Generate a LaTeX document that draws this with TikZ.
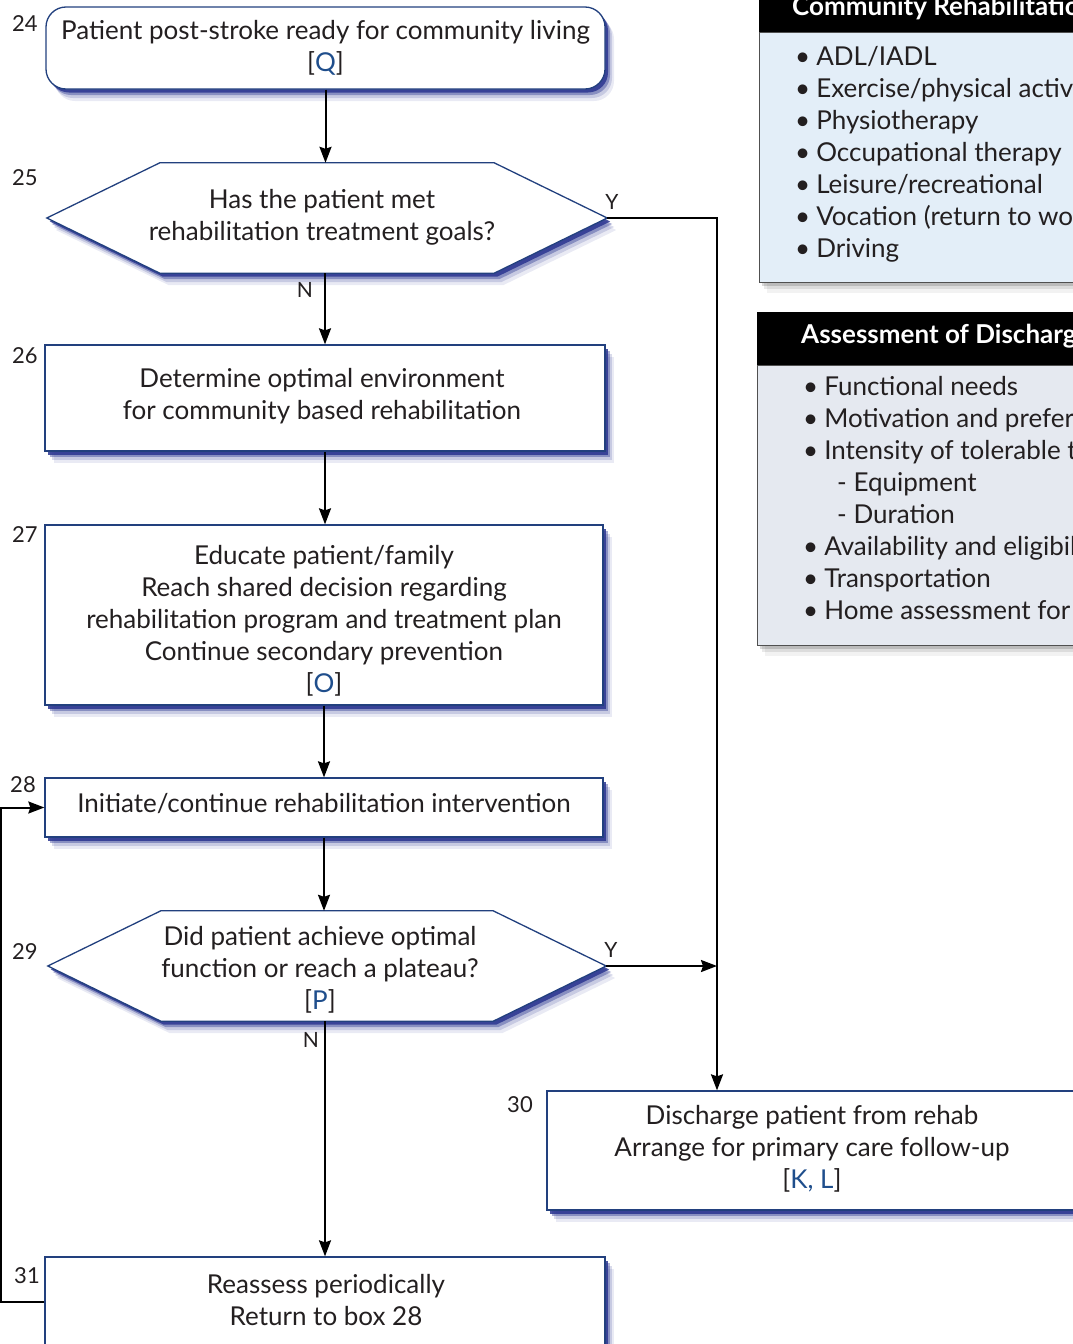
\documentclass[tikz,border=0pt]{standalone}
\usepackage{fontspec}
\setmainfont{Lato}
\usetikzlibrary{shadows,arrows.meta,calc,backgrounds}
\definecolor{txt}{HTML}{231F20}
\definecolor{bord}{HTML}{22407E}
\definecolor{shb}{HTML}{2A3590}
\definecolor{refc}{HTML}{1F4E8C}
\definecolor{pan1}{HTML}{E3EEF8}
\definecolor{pan2}{HTML}{E5E9F0}
\definecolor{panb}{HTML}{505050}
\newcommand\rf[1]{[\textcolor{refc}{#1}]}
\tikzset{
  bsh/.style={general shadow={fill=shb,opacity=.10,shadow xshift=9pt,shadow yshift=-12pt},
              general shadow={fill=shb,opacity=.18,shadow xshift=7pt,shadow yshift=-9pt},
              general shadow={fill=shb,opacity=.40,shadow xshift=5pt,shadow yshift=-6pt},
              general shadow={fill=shb,opacity=.85,shadow xshift=3pt,shadow yshift=-3.5pt}},
  gsh/.style={general shadow={fill=black,opacity=.05,shadow xshift=7pt,shadow yshift=-10pt},
              general shadow={fill=black,opacity=.09,shadow xshift=4pt,shadow yshift=-6pt},
              general shadow={fill=black,opacity=.15,shadow xshift=2pt,shadow yshift=-3pt}},
  box/.style={draw=bord, line width=1.3pt, fill=white, align=center, text=txt,
              font=\fontsize{26}{32}\selectfont, bsh, inner sep=0pt},
  boxtxt/.style={align=center, text=txt, font=\fontsize{26}{32}\selectfont, inner sep=0pt},
  hexframe/.style={minimum width=#1, minimum height=110pt, inner sep=0pt},
  hexline/.style={draw=bord, line width=1.3pt, fill=white, bsh},
  lab/.style={font=\fontsize{22}{22}\selectfont, text=txt, inner sep=0pt},
  yn/.style={font=\fontsize{21}{21}\selectfont, text=txt, inner sep=0pt},
  arr/.style={draw=black, line width=2pt, -{Stealth[length=16pt,width=12pt,inset=2pt]}},
  item/.style={font=\fontsize{26}{32}\selectfont, text=txt, anchor=base west, inner sep=0pt},
  hdrtxt/.style={font=\fontsize{26}{28}\selectfont\bfseries, text=white, anchor=base west, inner sep=0pt},
}
\begin{document}
\begin{tikzpicture}[x=1pt,y=-1pt]
\useasboundingbox (0,0) rectangle (1073,1344);
\clip (0,0) rectangle (1073,1344);

% ---------- left column boxes ----------
\node[box, rounded corners=20pt, minimum width=559pt, minimum height=82pt] (b24) at (325.5,48)
  {Patient post-stroke ready for community living\\\rf{Q}};
\node[hexframe=560pt] (d25) at (327,218) {};
\node[boxtxt] (t25) at (322,217.5) {Has the patient met\\rehabilitation treatment goals?};
\node[box, minimum width=560pt, minimum height=106pt] (b26) at (325,398) {};
\node[boxtxt] (t26) at (322,396) {Determine optimal environment\\for community based rehabilitation};
\node[box, minimum width=558pt, minimum height=180pt] (b27) at (324,615) {};
\node[boxtxt] (t27) at (324,621) {Educate patient/family\\Reach shared decision regarding\\rehabilitation program and treatment plan\\Continue secondary prevention\\\rf{O}};
\node[box, minimum width=558pt, minimum height=59pt] (b28) at (324,807.5) {};
\node[boxtxt] (t28) at (324,803.5) {Initiate/continue rehabilitation intervention};
\node[hexframe=558pt] (d29) at (327,966) {};
\node[boxtxt] (t29) at (320,970) {Did patient achieve optimal\\function or reach a plateau?\\\rf{P}};
\node[box, minimum width=530pt, minimum height=119pt] (b30) at (812,1150.5) {};
\node[boxtxt] (t30) at (812,1149) {Discharge patient from rehab\\Arrange for primary care follow-up\\\rf{K, L}};
\node[box, minimum width=560pt, minimum height=90pt] (b31) at (325,1302) {};
\node[boxtxt] (t31) at (326,1300) {Reassess periodically\\Return to box 28};

\begin{pgfonlayer}{background}
\foreach \d in {d25,d29}{
  \path[hexline] (\d.west) -- ([xshift=113pt]\d.north west) -- ([xshift=-113pt]\d.north east)
     -- (\d.east) -- ([xshift=-113pt]\d.south east) -- ([xshift=113pt]\d.south west) -- cycle;
}
\end{pgfonlayer}

% ---------- step numbers ----------
\node[lab] (n24) at (25,24) {24};
\node[lab] (n25) at (25,178) {25};
\node[lab] (n26) at (25,356) {26};
\node[lab] (n27) at (25,535) {27};
\node[lab] (n28) at (23,785) {28};
\node[lab] (n29) at (25,952) {29};
\node[lab] (n30) at (520,1105) {30};
\node[lab] (n31) at (27,1276) {31};

% ---------- connectors ----------
\coordinate (jx) at (717,218);
\draw[arr] (b24.south) -- (b24.south |- d25.north);
\draw[arr] (d25.south -| b26.north) -- (b26.north);
\draw[arr] (b26.south) -- (b26.south |- b27.north);
\draw[arr] (b27.south) -- (b27.south |- b28.north);
\draw[arr] (b28.south) -- (b28.south |- d29.north);
\draw[arr] (d29.south -| b31.north) -- (b31.north);
\draw[arr] (d25.east) -- (jx) -- (jx |- b30.north);
\draw[arr] (d29.east) -- (d29.east -| jx);
\draw[arr] (b31.west) -- ++(-43,0) |- (b28.west);
\node[yn] (y25) at (612,202) {Y};
\node[yn] (nn25) at (305,290) {N};
\node[yn] (y29) at (611,950) {Y};
\node[yn] (nn29) at (311,1040) {N};

% ---------- right panels ----------
\node[draw=panb, line width=1.3pt, fill=pan1, gsh, anchor=north west, minimum width=600pt, minimum height=250pt, inner sep=0pt] (p1) at (759,32) {};
\node[fill=black, anchor=south west, minimum width=601pt, minimum height=60pt, inner sep=0pt] (h1) at (758.35,32) {};
\node[hdrtxt] (h1t) at (792,15) {Community Rehabilitation};
\foreach \t [count=\i] in {ADL/IADL,Exercise/physical activity,Physiotherapy,Occupational therapy,Leisure/recreational,Vocation (return to work),Driving}{
  \node[item] (p1i\i) at (795,{65+32*(\i-1)}) {•\hspace{6pt}\t};
}

\node[draw=panb, line width=1.3pt, fill=pan2, gsh, anchor=north west, minimum width=600pt, minimum height=280pt, inner sep=0pt] (p2) at (757,365) {};
\node[fill=black, anchor=south west, minimum width=601pt, minimum height=53pt, inner sep=0pt] (h2) at (756.35,365) {};
\node[hdrtxt] (h2t) at (801,343) {Assessment of Discharge};
\foreach \t [count=\i] in {•\hspace{6pt}Functional needs,•\hspace{6pt}Motivation and preferences,•\hspace{6pt}Intensity of tolerable therapy,\hspace{34pt}- Equipment,\hspace{34pt}- Duration,•\hspace{6pt}Availability and eligibility,•\hspace{6pt}Transportation,•\hspace{6pt}Home assessment for safety}{
  \node[item] (p2i\i) at (803,{395+32*(\i-1)}) {\t};
}
\end{tikzpicture}
\end{document}
